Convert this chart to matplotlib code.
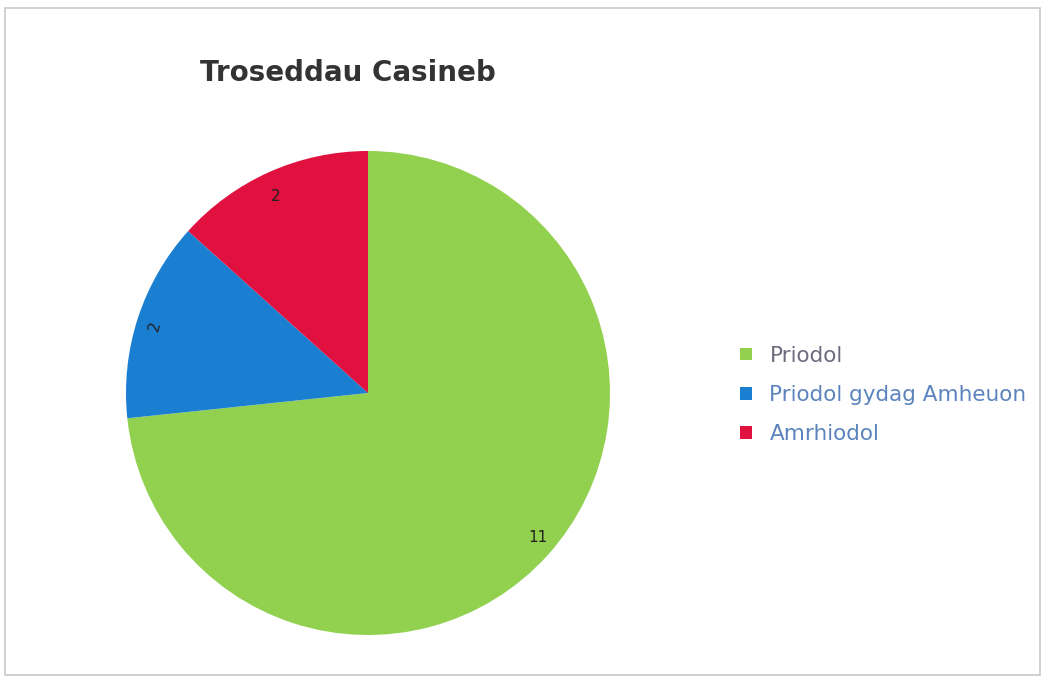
import matplotlib
matplotlib.use("Agg")
import matplotlib.pyplot as plt
from matplotlib.patches import Rectangle, Patch

# data
categories = ["Priodol", "Priodol gydag Amheuon", "Amrhiodol"]
counts = [11, 2, 2]
colours = ["#92D050", "#1B7FD1", "#E0103F"]
title = "Troseddau Casineb"

W, H = 1047, 684
fig = plt.figure(figsize=(W / 100, H / 100), dpi=100)
fig.patch.set_facecolor("white")

# chart frame
fig.patches.append(Rectangle((5 / W, 9 / H), 1035 / W, 667 / H,
                             transform=fig.transFigure, fill=False,
                             edgecolor="#C8C8C8", linewidth=1.2))

# pie centred at ~(368, 393) px with radius ~242 px
cx, cy, r = 368, 393, 242
ax = fig.add_axes([(cx - r) / W, (H - cy - r) / H, 2 * r / W, 2 * r / H])
wedges, texts = ax.pie(counts, colors=colours, startangle=90,
                       counterclock=False, labels=[str(c) for c in counts],
                       labeldistance=0.89,
                       textprops=dict(fontsize=11, color="#202020"))
texts[1].set_rotation(75)
ax.set_xlim(-1, 1)
ax.set_ylim(-1, 1)
ax.set_aspect("equal")
ax.axis("off")

fig.text(348 / W, 1 - 73 / H, title, ha="center", va="center",
         fontsize=20, fontweight="bold", color="#333333")

handles = [Patch(facecolor=c, edgecolor="none") for c in colours]
leg = fig.legend(handles, categories, loc="center left",
                 bbox_to_anchor=(721 / W, 1 - 395 / H), frameon=False,
                 fontsize=15.5, handlelength=0.55, handleheight=0.55,
                 handletextpad=0.8, labelspacing=0.9)
for t, c in zip(leg.get_texts(), ["#6F6A7E", "#5B84BE", "#5B84BE"]):
    t.set_color(c)

fig.savefig("out.png", dpi=100)
